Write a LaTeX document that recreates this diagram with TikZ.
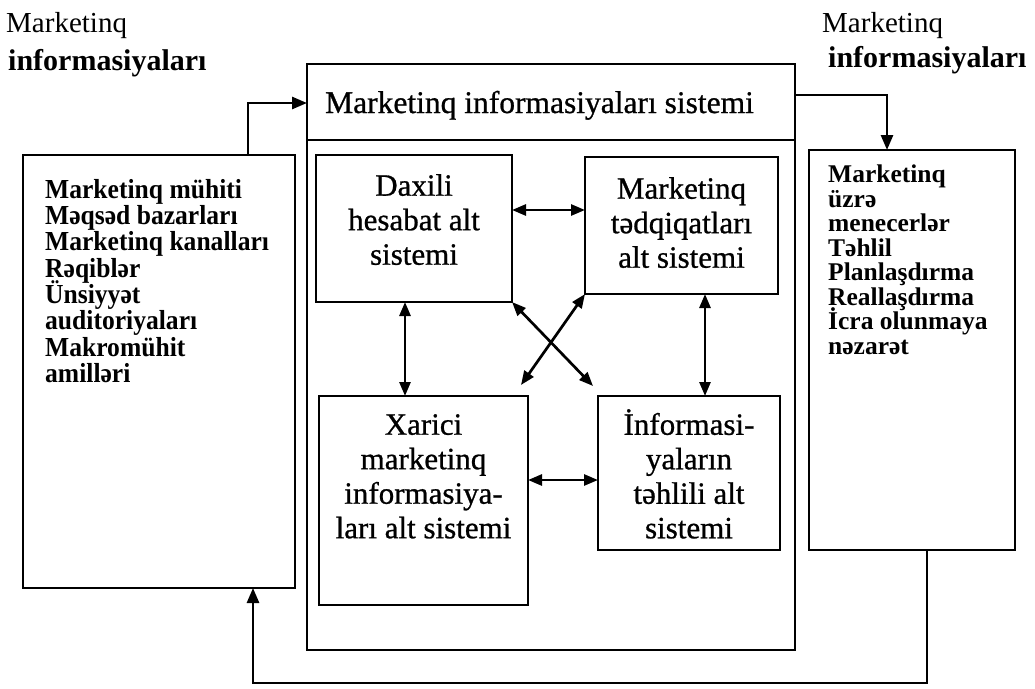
\documentclass[tikz,border=0pt]{standalone}
\usepackage{fontspec}
\setmainfont{Liberation Serif}
\newfontfamily\heavyserif{Liberation Serif}[FakeBold=0.8]
\usetikzlibrary{arrows.meta,calc}
\newcommand\condlist[2]{\scalebox{#1}[1]{\parbox[t]{320pt}{\lineskiplimit=-100pt\relax\raggedright #2}}}
\begin{document}
\begin{tikzpicture}[x=1pt,y=-1pt,
  every node/.style={inner sep=0pt},
  box/.style={draw, line width=2.7pt, anchor=north west, rectangle, outer sep=0pt},
  con/.style={line width=2.7pt, -{Triangle[length=15pt,width=12pt]}},
  dbl/.style={line width=2.7pt, {Triangle[length=14pt,width=11pt]}-{Triangle[length=14pt,width=11pt]}},
  intext/.style={align=center, anchor=north, font=\heavyserif\fontsize{31}{34.5}\selectfont},
  leftlist/.style={anchor=north west, font=\bfseries\fontsize{27.5}{26.3}\selectfont},
  rightlist/.style={anchor=north west, font=\bfseries\fontsize{25.5}{24.5}\selectfont},
  toplab/.style={anchor=base west, font=\fontsize{29}{30}\selectfont},
  toplabb/.style={anchor=base west, font=\bfseries\fontsize{30}{30}\selectfont},
]
\useasboundingbox (0,0) rectangle (1035,688);

% boxes
\node[box, minimum width=488pt, minimum height=586pt] (main) at (307,64) {};
\node[box, minimum width=272pt, minimum height=433pt] (left) at (23,155) {};
\node[box, minimum width=206pt, minimum height=400pt] (right) at (809,150) {};
\node[box, minimum width=196pt, minimum height=147pt] (dax) at (316,155) {};
\node[box, minimum width=193pt, minimum height=137pt] (mar) at (585,157) {};
\node[box, minimum width=209pt, minimum height=209pt] (xar) at (319,396) {};
\node[box, minimum width=182pt, minimum height=154pt] (inf) at (598,396) {};

% header divider
\coordinate (dv) at (0,140);
\draw[line width=2.7pt] (main.west |- dv) -- (main.east |- dv);

% texts
\node[anchor=base west, font=\heavyserif\fontsize{31.5}{34}\selectfont] (title) at (325,113) {Marketinq informasiyaları sistemi};
\node[toplab] (tl1) at (6,32) {Marketinq};
\node[toplabb] (tl2) at (8,70) {informasiyaları};
\node[toplab] (tr1) at (822,32) {Marketinq};
\node[toplabb] (tr2) at (828,67) {informasiyaları};

\node[intext] (daxt) at (414,174) {Daxili\\hesabat alt\\sistemi};
\node[intext] (mart) at (681.5,177) {Marketinq\\tədqiqatları\\alt sistemi};
\node[intext] (xart) at (423.5,414) {Xarici\\marketinq\\informasiya-\\ları alt sistemi};
\node[intext] (inft) at (689,409) {İnformasi-\\yaların\\təhlili alt\\sistemi};

\node[leftlist] (leftt) at (45,179) {\condlist{0.93}{Marketinq mühiti\\Məqsəd bazarları\\Marketinq kanalları\\Rəqiblər\\Ünsiyyət\\auditoriyaları\\Makromühit\\amilləri}};
\node[rightlist] (rightt) at (828,165) {\condlist{1}{Marketinq\\üzrə\\menecerlər\\Təhlil\\Planlaşdırma\\Reallaşdırma\\İcra olunmaya\\nəzarət}};

% outer connectors
\coordinate (a1) at (248,103);
\draw[con] (left.north -| a1) |- (main.west |- a1);
\coordinate (a2) at (887,95);
\draw[con] (main.east |- a2) -| (right.north -| a2);
\coordinate (a3) at (927,683);
\coordinate (a4) at (253,683);
\draw[con] (right.south -| a3) -- (a3) -- (a4) -- (left.south -| a4);

% inner connectors
\coordinate (h1) at (0,210);
\draw[dbl] (dax.east |- h1) -- (mar.west |- h1);
\coordinate (v1) at (405,0);
\draw[dbl] (dax.south -| v1) -- (xar.north -| v1);
\coordinate (v2) at (705,0);
\draw[dbl] (mar.south -| v2) -- (inf.north -| v2);
\coordinate (h2) at (0,480);
\draw[dbl] (xar.east |- h2) -- (inf.west |- h2);
\coordinate (c1) at (593,386);
\draw[dbl] (dax.south east) -- (c1);
\coordinate (c2) at (521,385);
\draw[dbl] (mar.south west) -- (c2);
\end{tikzpicture}
\end{document}
